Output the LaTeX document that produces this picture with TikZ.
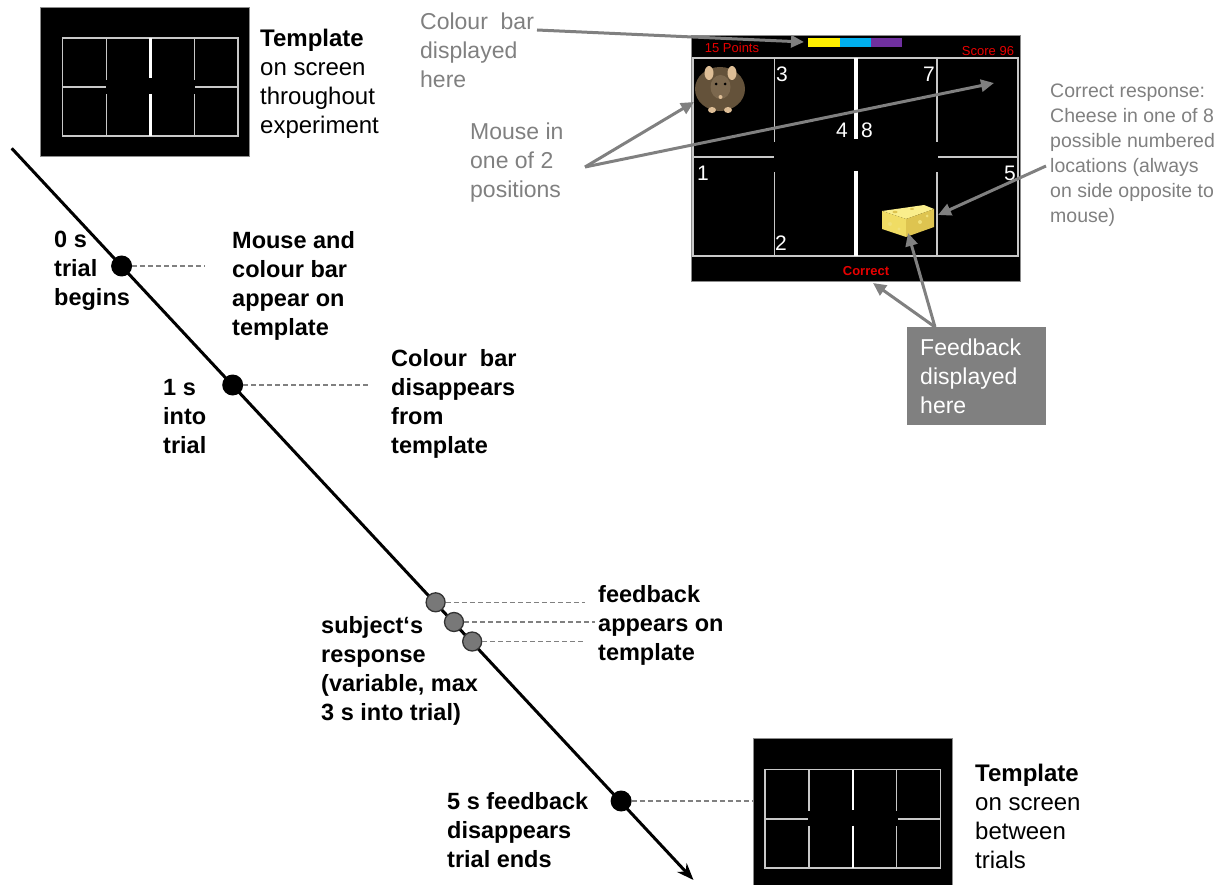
\documentclass[tikz,border=0pt]{standalone}
\usepackage{fontspec}
\setmainfont{Liberation Sans}
\usetikzlibrary{arrows.meta}
\definecolor{anno}{RGB}{128,128,128}
\definecolor{wallgray}{RGB}{200,200,200}
\definecolor{scrred}{RGB}{232,0,0}
\definecolor{barY}{RGB}{255,240,0}
\definecolor{barC}{RGB}{0,176,240}
\definecolor{barP}{RGB}{112,48,160}
\definecolor{mousebody}{RGB}{100,82,58}
\definecolor{mousehead}{RGB}{124,104,78}
\definecolor{mouseear}{RGB}{222,190,150}
\definecolor{cheeseA}{RGB}{250,238,140}
\definecolor{cheeseB}{RGB}{240,220,100}
\definecolor{cheeseC}{RGB}{222,196,80}
\definecolor{respfill}{RGB}{120,120,120}

% maze walls inside a frame (x0,y0)-(x1,y1); #5 outer/side wall width, #6 centre wall width
\newcommand\mazeplan[6]{%
  \pgfmathsetmacro\mzw{#3-#1}\pgfmathsetmacro\mzh{#4-#2}%
  \pgfmathsetmacro\mza{#1+0.25*\mzw}%
  \pgfmathsetmacro\mzb{#1+0.5*\mzw}%
  \pgfmathsetmacro\mzc{#1+0.75*\mzw}%
  \pgfmathsetmacro\mzm{#2+0.5*\mzh}%
  \pgfmathsetmacro\mzsa{\mzm-0.076*\mzh}%
  \pgfmathsetmacro\mzsb{\mzm+0.076*\mzh}%
  \pgfmathsetmacro\mzta{\mzm-0.09*\mzh}%
  \pgfmathsetmacro\mztb{\mzm+0.07*\mzh}%
  \pgfmathsetmacro\mzal{\mza-1}%
  \pgfmathsetmacro\mzcr{\mzc+1}%
  \draw[wallgray, line width=#5] (#1,#2) rectangle (#3,#4);
  \draw[wallgray, line width=#5] (\mza,#2) -- (\mza,\mzsa) (\mza,\mzsb) -- (\mza,#4);
  \draw[wallgray, line width=#5] (\mzc,#2) -- (\mzc,\mzsa) (\mzc,\mzsb) -- (\mzc,#4);
  \draw[wallgray, line width=#5] (#1,\mzm) -- (\mzal,\mzm) (\mzcr,\mzm) -- (#3,\mzm);
  \draw[white, line width=#6] (\mzb,#2) -- (\mzb,\mzta) (\mzb,\mztb) -- (\mzb,#4);
}

\begin{document}
\begin{tikzpicture}[x=1pt,y=-1pt,
  boldtxt/.style={font=\bfseries\fontsize{23.5}{29}\selectfont, align=left, anchor=north west, inner sep=0pt},
  plaintxt/.style={font=\fontsize{24}{29}\selectfont, align=left, anchor=north west, inner sep=0pt},
  notetxt/.style={font=\fontsize{23}{29}\selectfont, text=anno, align=left, anchor=north west, inner sep=0pt},
  smallnote/.style={font=\fontsize{19.5}{25}\selectfont, text=anno, align=left, anchor=north west, inner sep=0pt},
  tick/.style={draw=anno, line width=1.2pt, dash pattern=on 5pt off 3pt},
  event/.style={circle, fill=black, minimum size=21pt, inner sep=0pt},
  response/.style={circle, fill=respfill, draw=black!80, line width=1.3pt, minimum size=19pt, inner sep=0pt},
  pointer/.style={draw=anno, line width=3pt, -{Triangle[length=13pt,width=12pt]}},
  screenbox/.style={fill=black, draw=black!45, line width=1pt},
  digit/.style={font=\fontsize{21}{21}\selectfont, text=white, inner sep=0pt},
  scrlabel/.style={font=\fontsize{13}{13}\selectfont, text=scrred, inner sep=0pt},
]
\useasboundingbox (0,0) rectangle (1231,885);

% ---------- template shown throughout the experiment ----------
\draw[screenbox] (40,8) rectangle (249,157);
\mazeplan{62.7}{38}{238}{136}{1.3pt}{2.6pt}
\node[plaintxt] (tmplA) at (260,29) {\textbf{Template}\\on screen\\throughout\\experiment};

% ---------- trial screen ----------
\draw[screenbox] (691,36) rectangle (1020,282);
\mazeplan{693.3}{58.3}{1018.3}{255.7}{1.8pt}{4pt}
\fill[barY] (807.7,38.3) rectangle (839.7,46.7);
\fill[barC] (839.7,38.3) rectangle (871,46.7);
\fill[barP] (871,38.3) rectangle (902.3,46.7);
\coordinate (barleft) at (804,42);
\node[scrlabel] (points) at (732,48) {15 Points};
\node[scrlabel] (score) at (988,51) {Score 96};
\node[scrlabel, font=\bfseries\fontsize{13}{13}\selectfont] (correct) at (866,271) {Correct};
\node[digit] (n3) at (782,74) {3};
\node[digit] (n7) at (929,74) {7};
\node[digit] (n4) at (842,130) {4};
\node[digit] (n8) at (867,130) {8};
\node[digit] (n1) at (703,173) {1};
\node[digit] (n5) at (1010,173) {5};
\node[digit] (n2) at (781,243) {2};

% mouse in the upper left arm
\fill[mousebody] (720,89) ellipse (25 and 22);
\fill[mouseear] (709,73) ellipse (4.5 and 7);
\fill[mouseear] (732,73) ellipse (4.5 and 7);
\fill[mousehead] (720.5,87) ellipse (10 and 12);
\fill[black] (716,84) circle (1.5) (725,84) circle (1.5);
\fill[mouseear] (720.5,97) circle (2);
\fill[mouseear] (712,110) ellipse (4 and 3) (728,110) ellipse (4 and 3);

% cheese in the lower right arm
\fill[cheeseA] (882,211) -- (924,205) -- (934,209) -- (906,219) -- cycle;
\fill[cheeseB] (882,211) -- (906,219) -- (906,237) -- (882,229) -- cycle;
\fill[cheeseC] (906,219) -- (934,209) -- (934,227) -- (906,237) -- cycle;
\fill[cheeseC] (895,212) ellipse (2.5 and 1.3) (912,209) ellipse (2 and 1);
\fill[cheeseA!70!cheeseC] (890,224) circle (2) (899,229) circle (1.6) (920,222) circle (2) (927,216) circle (1.5);
\coordinate (cheese) at (938,215);
\coordinate (cheesefoot) at (908,233);

% ---------- annotations of the trial screen ----------
\node[notetxt] (cbnote) at (420,13) {Colour~ bar\\displayed\\here};
\node[notetxt] (mousenote) at (470,123) {Mouse in\\one of 2\\positions};
\node[smallnote] (respnote) at (1050,84) {Correct response:\\Cheese in one of 8\\possible numbered\\locations (always\\on side opposite to\\mouse)};
\coordinate (cbtail) at (537,30);
\coordinate (mtail) at (585,167);
\coordinate (mouseA) at (694,102);
\coordinate (mouseB) at (994,83);
\coordinate (resptail) at (1046,166);
\draw[pointer] (cbtail) -- (barleft);
\draw[pointer] (mtail) -- (mouseA);
\draw[pointer] (mtail) -- (mouseB);
\draw[pointer] (resptail) -- (cheese);

\node[fill=anno, minimum width=139pt, minimum height=98pt, inner sep=0pt, anchor=north west] (fbbox) at (907,327) {};
\node[font=\fontsize{23}{29}\selectfont, text=white, align=left, anchor=north west, inner sep=0pt] (fbtext) at (920,339) {Feedback\\displayed\\here};
\coordinate (fbapex) at ([xshift=28pt]fbbox.north west);
\draw[pointer] (fbapex) -- (873,283);
\draw[pointer] (fbapex) -- (cheesefoot);

% ---------- time line ----------
\coordinate (tstart) at (11.7,148.3);
\coordinate (tend) at (693.5,880);
\draw[line width=3pt, -{Stealth[length=17pt,width=13pt]}] (tstart) -- (tend);

\node[event] (t0) at (121.6,266) {};
\node[event] (t1) at (232.7,385) {};
\node[response] (r1) at (435.6,602.3) {};
\node[response] (r2) at (454,622) {};
\node[response] (r3) at (472.2,641.5) {};
\node[event] (t5) at (621.1,801) {};

\coordinate (d0) at (205,266);
\coordinate (d1) at (368,385);
\coordinate (dr1) at (585,602.3);
\coordinate (dr2) at (595,622);
\coordinate (dr3) at (585,641.5);
\draw[tick] (t0.east) -- (d0);
\draw[tick] (t1.east) -- (d1);
\draw[tick] (r1.east) -- (dr1);
\draw[tick] (r2.east) -- (dr2);
\draw[tick] (r3.east) -- (dr3);

% ---------- template between trials ----------
\draw[screenbox] (753,738) rectangle (952,887);
\mazeplan{765}{769.7}{940.7}{868}{1.3pt}{2.6pt}
\node[plaintxt] (tmplB) at (975,764) {\textbf{Template}\\on screen\\between\\trials};
\draw[tick] (t5.east) -- (753,801);

% ---------- event labels ----------
\node[boldtxt] (l0) at (54,231) {0 s\\trial\\begins};
\node[boldtxt] (e0) at (232,231) {Mouse and\\colour bar\\appear on\\template};
\node[boldtxt] (l1) at (163,379) {1 s\\into\\trial};
\node[boldtxt] (e1) at (391,349) {Colour~ bar\\disappears\\from\\template};
\node[boldtxt] (lr) at (321,616) {subject‘s\\response\\(variable, max\\3 s into trial)};
\node[boldtxt] (er) at (598,585) {feedback\\appears on\\template};
\node[boldtxt] (l5) at (447,792) {5 s feedback\\disappears\\trial ends};
\end{tikzpicture}
\end{document}
